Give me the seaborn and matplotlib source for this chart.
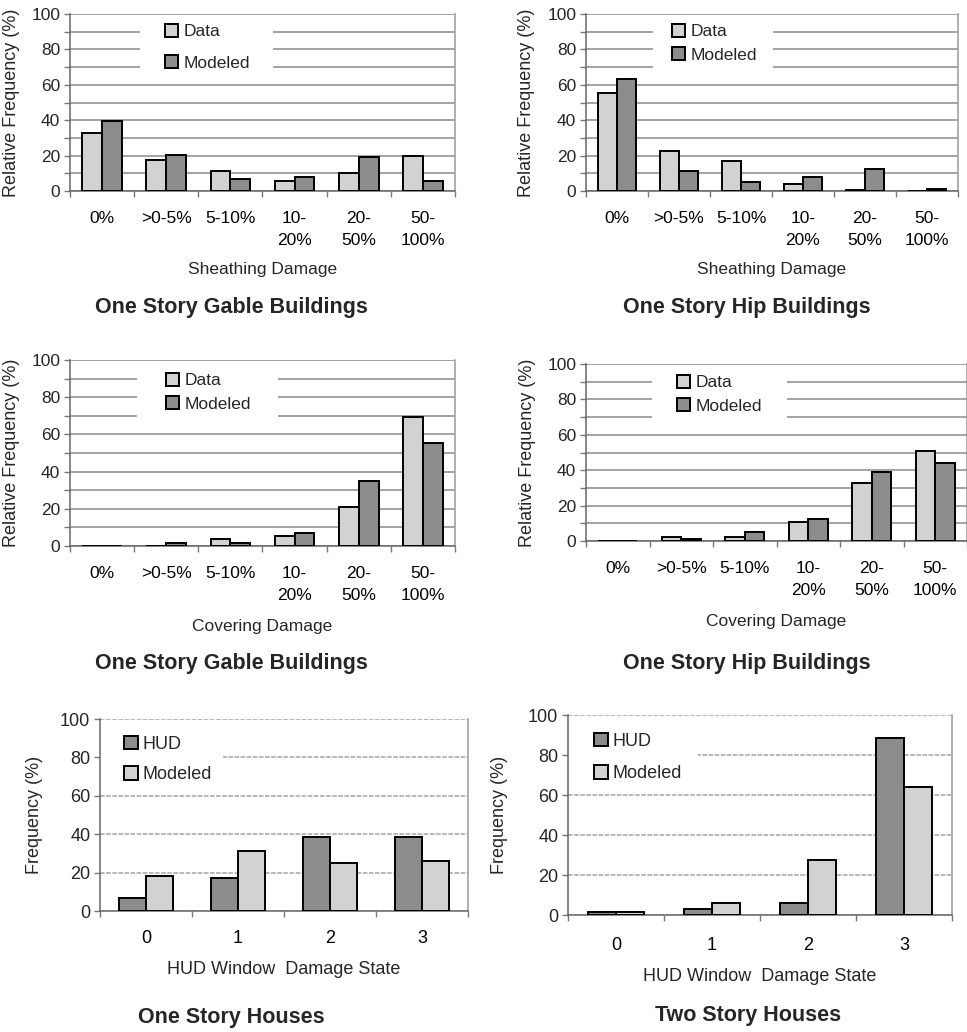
import matplotlib
matplotlib.use("Agg")
import matplotlib.pyplot as plt
import seaborn as sns
import pandas as pd
import numpy as np
from matplotlib.ticker import FixedLocator, MultipleLocator
from matplotlib.patches import Rectangle

# ---------------- data ----------------
damage_cats = ["0%", ">0-5%", "5-10%", "10-\n20%", "20-\n50%", "50-\n100%"]
window_states = ["0", "1", "2", "3"]

gable_sheath_data = [33, 17.5, 11.5, 5.5, 10, 19.5]
gable_sheath_model = [39.5, 20.5, 7, 8, 19, 5.5]
hip_sheath_data = [55.5, 22.5, 17, 4, 0.8, 0]
hip_sheath_model = [63, 11.5, 5, 8, 12.5, 1]
gable_cover_data = [0, 0, 3.5, 5.5, 21, 69.5]
gable_cover_model = [0, 1.5, 1.5, 7, 35, 55.5]
hip_cover_data = [0, 2.5, 2.5, 10.5, 33, 51]
hip_cover_model = [0, 1, 5, 12.5, 39, 44]
one_story_hud = [7, 17, 38.5, 38.5]
one_story_model = [18, 31, 25, 26]
two_story_hud = [1.3, 3, 6, 88.5]
two_story_model = [1.3, 6, 27.5, 64]

LIGHT = "#d2d2d2"
DARK = "#8c8c8c"

sns.set_theme(style="white")
plt.rcParams['font.family'] = ['Liberation Sans', 'DejaVu Sans']

W, H = 967.0, 1032.0
fig = plt.figure(figsize=(W / 100, H / 100), dpi=100)


def px_axes(left, top, right, bottom):
    return fig.add_axes([left / W, 1 - bottom / H, (right - left) / W, (bottom - top) / H])


def panel(ax, box_px, cats, names, series, colors, xlabel, ylabel, fine_grid, fs,
          leg_anchor, leg_spacing, ylab_x, width, xpad, xlpad, white_box, ylfs):
    left, top, right, bottom = box_px
    df = pd.DataFrame({
        "cat": list(cats) * len(names),
        "series": np.repeat(names, len(cats)),
        "value": np.concatenate(series),
    })
    sns.barplot(data=df, x="cat", y="value", hue="series", order=cats,
                hue_order=names, palette=dict(zip(names, colors)),
                width=width, edgecolor="black", linewidth=1.4,
                saturation=1, ax=ax, zorder=3)
    n = len(cats)
    ax.set_xlim(-0.5, n - 0.5)
    ax.set_ylim(0, 100)
    ax.set_axisbelow(True)
    ax.yaxis.set_major_locator(MultipleLocator(20))
    if fine_grid:
        ax.yaxis.set_minor_locator(MultipleLocator(10))
        ax.grid(True, axis="y", which="both", color="#8a8a8a", lw=1.1)
    else:
        ax.grid(True, axis="y", which="major", color="#a4a4a4", lw=1.1,
                linestyle=(0, (3, 1)))
    ax.xaxis.set_minor_locator(FixedLocator(np.arange(-0.5, n, 1.0)))
    ax.tick_params(axis="x", which="major", length=0, pad=xpad,
                   labelsize=fs, colors="black")
    ax.tick_params(axis="x", which="minor", length=4, width=1, color="#777777",
                   direction="out", bottom=True)
    ax.tick_params(axis="y", which="both", length=4, width=1, color="#777777",
                   direction="out", left=True, labelsize=fs, pad=3)
    plt.setp(ax.get_xticklabels(), linespacing=1.6)
    ax.spines["top"].set_visible(False)
    ax.spines["right"].set_color("#9a9a9a")
    ax.spines["left"].set_color("#666666")
    ax.spines["bottom"].set_color("#666666")
    for s in ["left", "bottom", "right"]:
        ax.spines[s].set_linewidth(1.1)
    ax.set_xlabel(xlabel, fontsize=fs, labelpad=xlpad)
    ax.set_ylabel(ylabel, fontsize=ylfs)
    ax.yaxis.set_label_coords(ylab_x, 0.5)
    # white background behind the legend (hides the gridlines there)
    bx0, by0, bx1, by1 = white_box
    ax.add_patch(Rectangle(((bx0 - left) / (right - left), (bottom - by1) / (bottom - top)),
                           (bx1 - bx0) / (right - left), (by1 - by0) / (bottom - top),
                           transform=ax.transAxes, facecolor="white",
                           edgecolor="none", zorder=1))
    handles, labels = ax.get_legend_handles_labels()
    ax.legend(handles, labels, loc="upper left", bbox_to_anchor=leg_anchor,
              frameon=False, fontsize=fs,
              handlelength=0.75, handleheight=0.75, handletextpad=0.3,
              labelspacing=leg_spacing, borderpad=0, borderaxespad=0)


def anchor(box_px, x, y):
    left, top, right, bottom = box_px
    return ((x - left) / (right - left), (bottom - y) / (bottom - top))


fs_top = 12.5
b1 = (70, 14, 455, 191)
ax1 = px_axes(*b1)
panel(ax1, b1, damage_cats, ["Data", "Modeled"], [gable_sheath_data, gable_sheath_model],
      [LIGHT, DARK], "Sheathing Damage", "Relative Frequency (%)", True, fs_top,
      anchor(b1, 165, 24), 0.92, -0.13, 0.62, 14.5, 10, (140, 20, 273, 76), 13)

b2 = (586, 14, 958, 191)
ax2 = px_axes(*b2)
panel(ax2, b2, damage_cats, ["Data", "Modeled"], [hip_sheath_data, hip_sheath_model],
      [LIGHT, DARK], "Sheathing Damage", "Relative Frequency (%)", True, fs_top,
      anchor(b2, 672, 24), 0.46, -0.137, 0.62, 14.5, 10, (653, 20, 773, 76), 13)

b3 = (70, 360, 455, 546)
ax3 = px_axes(*b3)
panel(ax3, b3, damage_cats, ["Data", "Modeled"], [gable_cover_data, gable_cover_model],
      [LIGHT, DARK], "Covering Damage", "Relative Frequency (%)", True, fs_top,
      anchor(b3, 166, 373), 0.46, -0.13, 0.62, 14.5, 11, (137, 366, 278, 425), 13)

b4 = (586, 364, 967, 541)
ax4 = px_axes(*b4)
panel(ax4, b4, damage_cats, ["Data", "Modeled"], [hip_cover_data, hip_cover_model],
      [LIGHT, DARK], "Covering Damage", "Relative Frequency (%)", True, fs_top,
      anchor(b4, 677, 375), 0.46, -0.13, 0.62, 14.5, 11, (652, 370, 787, 426), 13)

fs_bot = 13
b5 = (100, 719, 468, 911)
ax5 = px_axes(*b5)
panel(ax5, b5, window_states, ["HUD", "Modeled"], [one_story_hud, one_story_model],
      [DARK, LIGHT], "HUD Window  Damage State", "Frequency (%)", False, fs_bot,
      anchor(b5, 124, 736), 0.74, -0.155, 0.59, 14, 10, (100, 725, 223, 790), 13)

b6 = (568, 715, 952, 915)
ax6 = px_axes(*b6)
panel(ax6, b6, window_states, ["HUD", "Modeled"], [two_story_hud, two_story_model],
      [DARK, LIGHT], "HUD Window  Damage State", "Frequency (%)", False, fs_bot,
      anchor(b6, 594, 733), 0.85, -0.156, 0.59, 16, 10, (568, 722, 698, 792), 13)

titles = [
    (231, 308, "One Story Gable Buildings"),
    (747, 308, "One Story Hip Buildings"),
    (231, 663, "One Story Gable Buildings"),
    (747, 663, "One Story Hip Buildings"),
    (231, 1017, "One Story Houses"),
    (748, 1016, "Two Story Houses"),
]
for x, y, t in titles:
    fig.text(x / W, 1 - y / H, t, ha="center", va="center",
             fontsize=15.5, fontweight="bold")

fig.savefig("out.png", dpi=100)
